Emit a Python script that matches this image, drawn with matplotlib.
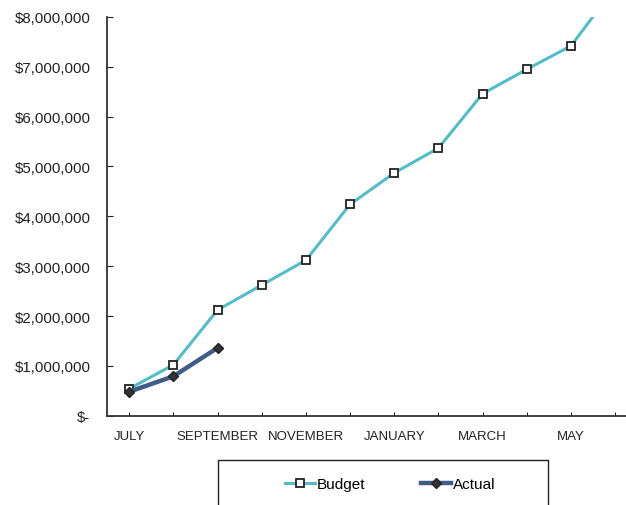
import matplotlib
matplotlib.use("Agg")
import matplotlib.pyplot as plt
from matplotlib.patches import Rectangle

# months of the fiscal year (July..June), labels only on every other tick
months = ["JULY", "AUGUST", "SEPTEMBER", "OCTOBER", "NOVEMBER", "DECEMBER",
          "JANUARY", "FEBRUARY", "MARCH", "APRIL", "MAY", "JUNE"]
budget = [540000, 1020000, 2120000, 2620000, 3120000, 4240000,
          4870000, 5370000, 6460000, 6950000, 7420000, 8600000]
actual = [480000, 790000, 1360000]

plt.rcParams['font.family'] = ['Liberation Sans', 'DejaVu Sans']

fig = plt.figure(figsize=(6.26, 5.06), dpi=100)
ax = fig.add_axes([0.171, 0.1765, 0.847, 0.788])

x = list(range(len(months)))
ax.plot(x, budget, color='#55bcc6', lw=2.2, marker='s', ms=6,
        mfc='white', mec='#222222', mew=1.3, label='Budget')
ax.plot(x[:len(actual)], actual, color='#3f5d88', lw=3.2, marker='D', ms=5.5,
        mfc='#333333', mec='#222222', label='Actual')

ax.set_xlim(-0.5, 11.5)
ax.set_ylim(0, 8000000)
ax.set_yticks(range(0, 8000001, 1000000))
ax.set_yticklabels(['$-'] + [f'${v:,.0f}' for v in range(1000000, 8000001, 1000000)],
                   fontsize=10.8)
ax.set_xticks(x)
ax.set_xticklabels([m if i % 2 == 0 else '' for i, m in enumerate(months)], fontsize=9.5)
ax.tick_params(axis='y', direction='in', length=4, pad=12, colors='#222222')
ax.tick_params(axis='x', direction='in', length=3, pad=10, colors='#222222')

for s in ['top', 'right']:
    ax.spines[s].set_visible(False)
for s in ['left', 'bottom']:
    ax.spines[s].set_color('#333333')
    ax.spines[s].set_linewidth(1.3)

# legend box (frame drawn separately so it can be wider than its content)
fig.patches.append(Rectangle((218 / 626, -0.02), 330 / 626, 45 / 506 + 0.02,
                             transform=fig.transFigure, fill=False,
                             edgecolor='#222222', lw=1.0))
fig.legend(loc='center', bbox_to_anchor=(390 / 626, 21 / 506), ncol=2,
           fontsize=11, frameon=False, handlelength=2.0, handletextpad=0.1,
           columnspacing=3.6)

fig.savefig('out.png', dpi=100)
